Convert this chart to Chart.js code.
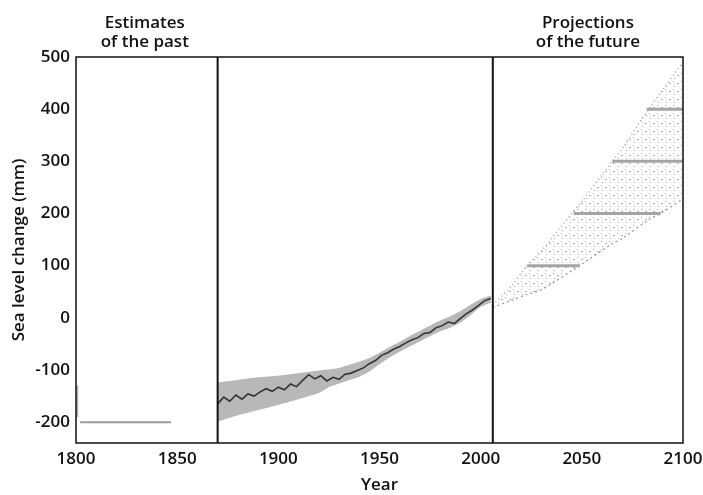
<!DOCTYPE html>
<html>
<head>
<meta charset="utf-8">
<script src="https://cdn.jsdelivr.net/npm/chart.js@4"></script>
<style>
html,body{margin:0;padding:0;background:#fff;}
#wrap{width:703px;height:495px;}
</style>
</head>
<body>
<div id="wrap"><canvas id="c" width="703" height="495"></canvas></div>
<script>
// ---- data ----
const xTicks = [1800, 1850, 1900, 1950, 2000, 2050, 2100];
const yTicks = [-200, -100, 0, 100, 200, 300, 400, 500];
const dividerYears = [1870, 2006];
const regionLabels = [["Estimates", "of the past"], ["Projections", "of the future"]];
const regionCenters = [1834, 2053];

const pastYears = [1802, 1847];
const pastLevel = [-200, -200];
const pastErrYears = [1800.6, 1800.6];
const pastErrLevel = [-130, -190];

const obsYears = [1870,1873,1876,1879,1882,1885,1888,1891,1894,1897,1900,1903,1906,1909,1912,1915,1918,1921,1924,1927,1930,1933,1936,1939,1942,1945,1948,1951,1954,1957,1960,1963,1966,1969,1972,1975,1978,1981,1984,1987,1990,1993,1996,1999,2002,2005];
const obsLevel  = [-165,-152,-160,-148,-156,-146,-150,-142,-136,-141,-133,-138,-127,-132,-120,-109,-117,-111,-121,-114,-118,-108,-106,-101,-96,-88,-82,-72,-67,-60,-55,-48,-42,-38,-30,-28,-19,-15,-8,-11,-1,8,15,24,33,37];

const bandYears = [1870,1880,1890,1900,1910,1920,1925,1930,1940,1945,1950,1955,1960,1965,1970,1975,1980,1985,1990,1995,2000,2005];
const bandUpper = [-125,-120,-115,-112,-107,-102,-100,-97,-85,-78,-68,-57,-47,-36,-26,-16,-6,2,12,24,35,42];
const bandLower = [-198,-186,-176,-166,-155,-143,-132,-125,-112,-102,-88,-75,-64,-54,-44,-34,-25,-18,-8,6,22,30];

const projYears = [2006,2015,2023,2030,2045,2049,2065,2070,2083,2089,2100];
const projUpper = [25,60,100,128,200,218,300,325,400,432,490];
const projLower = [20,33,45,54,90,100,142,152,188,200,228];

const projBarStart = [2023, 2046, 2065, 2082];
const projBarEnd   = [2049, 2089, 2100, 2100];
const projBarLevel = [100, 200, 300, 400];

// ---- helpers ----
const pts = (xs, ys) => xs.map((x, i) => ({x: x, y: ys[i]}));

function stipple() {
  const c = document.createElement('canvas');
  c.width = 8; c.height = 8;
  const g = c.getContext('2d');
  g.fillStyle = 'rgba(150,150,150,0.75)';
  g.fillRect(1, 1, 1, 1);
  g.fillRect(5, 3, 2, 1);
  g.fillRect(2, 6, 1, 1);
  return g.createPattern(c, 'repeat');
}

const FONT = "'Open Sans', 'Liberation Sans', sans-serif";

const datasets = [];
// past estimate
datasets.push({order: 5, data: pts(pastYears, pastLevel), borderColor: '#9a9a9a', borderWidth: 2, pointRadius: 0});
datasets.push({order: 5, data: pts(pastErrYears, pastErrLevel), borderColor: '#b0b0b0', borderWidth: 2, pointRadius: 0});
// observed band
datasets.push({order: 8, data: pts(bandYears, bandUpper), borderColor: '#b5b5b5', borderWidth: 1, pointRadius: 0, fill: '+1', backgroundColor: '#b8b8b8', tension: 0.2});
datasets.push({order: 9, data: pts(bandYears, bandLower), borderColor: '#b5b5b5', borderWidth: 1, pointRadius: 0, fill: false, tension: 0.2});
// observed line
datasets.push({order: 1, data: pts(obsYears, obsLevel), borderColor: '#333', borderWidth: 1.6, pointRadius: 0});
// projections
datasets.push({order: 8, data: pts(projYears, projUpper), borderColor: '#9a9a9a', borderWidth: 1.3, borderDash: [1, 3], pointRadius: 0, fill: '+1', backgroundColor: stipple(), tension: 0.3});
datasets.push({order: 9, data: pts(projYears, projLower), borderColor: '#9a9a9a', borderWidth: 1.3, borderDash: [2, 3], pointRadius: 0, fill: false, tension: 0.3});
projBarLevel.forEach((lv, i) => {
  datasets.push({order: 3, data: pts([projBarStart[i], projBarEnd[i]], [lv, lv]), borderColor: '#a5a5a5', borderWidth: 3, pointRadius: 0});
});
// dividers
dividerYears.forEach(yr => {
  datasets.push({order: 0, data: pts([yr, yr], [-240, 500]), borderColor: '#111', borderWidth: 2, pointRadius: 0});
});

const framePlugin = {
  id: 'frame',
  afterDatasetsDraw(chart) {
    const {ctx, chartArea: a, scales} = chart;
    ctx.save();
    ctx.strokeStyle = '#111';
    ctx.lineWidth = 1.5;
    ctx.strokeRect(a.left, a.top, a.right - a.left, a.bottom - a.top);
    ctx.fillStyle = '#111';
    ctx.font = "600 17px " + FONT;
    ctx.textAlign = 'center';
    ctx.textBaseline = 'alphabetic';
    regionLabels.forEach((lines, i) => {
      const x = scales.x.getPixelForValue(regionCenters[i]);
      ctx.fillText(lines[0], x, 28);
      ctx.fillText(lines[1], x, 47);
    });
    ctx.restore();
  }
};

const tickFont = {family: FONT, size: 17, weight: '600'};

new Chart(document.getElementById('c'), {
  type: 'line',
  data: {datasets: datasets},
  plugins: [framePlugin],
  options: {
    responsive: false,
    animation: false,
    layout: {padding: {top: 57, right: 20, left: 0, bottom: 0}},
    plugins: {legend: {display: false}, tooltip: {enabled: false}},
    elements: {line: {borderCapStyle: 'butt'}},
    scales: {
      x: {
        type: 'linear', min: 1800, max: 2100,
        grid: {display: false, drawTicks: false},
        border: {display: false},
        afterBuildTicks(s) { s.ticks = xTicks.map(v => ({value: v})); },
        afterFit(s) { s.height = 52; s.paddingLeft = 0; s.paddingRight = 0; },
        ticks: {color: '#111', font: tickFont, padding: 6, maxRotation: 0, callback: v => String(v)},
        title: {display: true, text: 'Year', color: '#111', font: {family: FONT, size: 17, weight: '600'}, padding: {top: 0, bottom: 0}}
      },
      y: {
        type: 'linear', min: -240, max: 500,
        grid: {display: false, drawTicks: false},
        border: {display: false},
        afterBuildTicks(s) { s.ticks = yTicks.map(v => ({value: v})); },
        afterFit(s) { s.width = 76; s.paddingTop = 0; s.paddingBottom = 0; },
        ticks: {color: '#111', font: tickFont, padding: 6, callback: v => String(v)},
        title: {display: true, text: 'Sea level change (mm)', color: '#111', font: {family: FONT, size: 17, weight: '600'}, padding: {top: 9, bottom: 0}}
      }
    }
  }
});
</script>
</body>
</html>
